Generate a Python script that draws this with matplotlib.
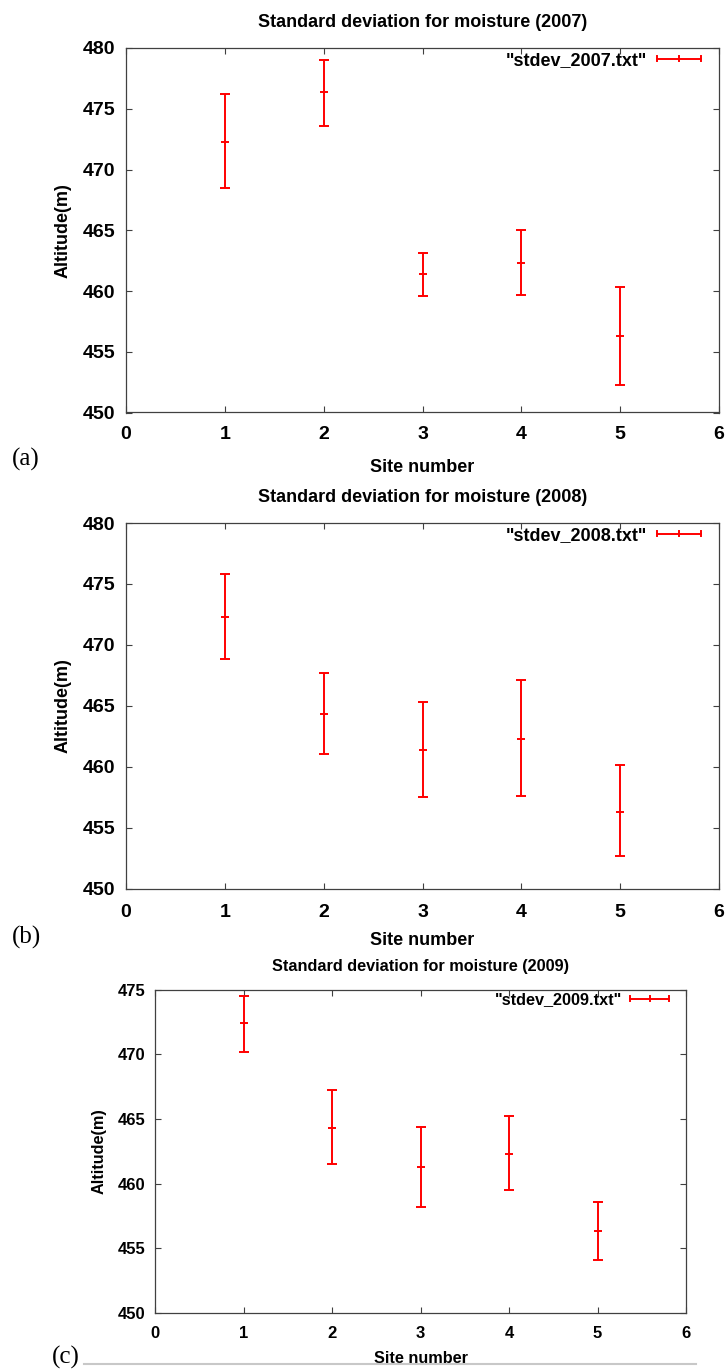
import matplotlib
matplotlib.use("Agg")
import matplotlib.pyplot as plt
from matplotlib.lines import Line2D
from matplotlib.legend_handler import HandlerBase
from matplotlib.container import ErrorbarContainer

plt.rcParams["font.family"] = ["Liberation Sans", "DejaVu Sans"]
plt.rcParams["font.weight"] = "bold"

W, H = 728, 1372
RED = "#ff0000"
SPINE = "#404040"

sites = [1, 2, 3, 4, 5]

# yearly mean altitude with low/high bounds per site
alt_2007 = [472.3, 476.4, 461.4, 462.3, 456.3]
lo_2007 = [468.5, 473.6, 459.6, 459.7, 452.3]
hi_2007 = [476.2, 479.0, 463.1, 465.0, 460.3]

alt_2008 = [472.3, 464.3, 461.4, 462.3, 456.3]
lo_2008 = [468.8, 461.0, 457.5, 457.6, 452.7]
hi_2008 = [475.8, 467.7, 465.3, 467.1, 460.1]

alt_2009 = [472.4, 464.3, 461.3, 462.3, 456.3]
lo_2009 = [470.2, 461.5, 458.2, 459.5, 454.1]
hi_2009 = [474.5, 467.2, 464.4, 465.2, 458.6]

x_ticks = [0, 1, 2, 3, 4, 5, 6]
y_ticks_ab = [450, 455, 460, 465, 470, 475, 480]
y_ticks_c = [450, 455, 460, 465, 470, 475]


class HandlerCapLine(HandlerBase):
    """gnuplot-like key sample: horizontal bar with end caps and a centre tick."""

    def create_artists(self, legend, orig_handle, xdescent, ydescent,
                       width, height, fontsize, trans):
        y = height / 2 - ydescent
        x0 = -xdescent
        x1 = x0 + width
        xm = (x0 + x1) / 2
        h = height * 0.22
        kw = dict(color=RED, lw=1.4, transform=trans)
        return [
            Line2D([x0, x1], [y, y], **kw),
            Line2D([x0, x0], [y - h, y + h], **kw),
            Line2D([x1, x1], [y - h, y + h], **kw),
            Line2D([xm, xm], [y - h, y + h], **kw),
        ]


def px_rect(l, r, t, b):
    return [l / W, 1 - b / H, (r - l) / W, (b - t) / H]


def panel(fig, rect, title, key, y, lo, hi, ylim, yticks, fs, tick_fs,
          key_fs, ypad, xpad, ylab_x, xlab_y, key_anchor, handlelen,
          textpad):
    ax = fig.add_axes(rect)
    err = [[c - l for c, l in zip(y, lo)], [h - c for c, h in zip(y, hi)]]
    eb = ax.errorbar(sites, y, yerr=err, fmt="_", color=RED, ms=5.5,
                     mew=1.4, elinewidth=1.4, capsize=3.5, capthick=1.4,
                     label=key)
    ax.set_xlim(0, 6)
    ax.set_ylim(*ylim)
    ax.set_xticks(x_ticks)
    ax.set_yticks(yticks)
    ax.tick_params(direction="in", length=4, width=0.8, color=SPINE,
                   top=True, right=True, labelsize=tick_fs)
    ax.tick_params(axis="y", pad=ypad)
    ax.tick_params(axis="x", pad=xpad)
    for s in ax.spines.values():
        s.set_color(SPINE)
        s.set_linewidth(0.9)

    ax.set_title(title, fontsize=fs, fontweight="bold", y=1.07, pad=0,
                 va="center")
    ax.set_xlabel("Site number", fontsize=fs, fontweight="bold")
    ax.xaxis.set_label_coords(0.5, xlab_y)
    ax.xaxis.label.set_va("center")
    ax.set_ylabel("Altitude(m)", fontsize=fs, fontweight="bold")
    ax.yaxis.set_label_coords(ylab_x, 0.5)
    ax.yaxis.label.set_va("center")

    ax.legend(handles=[eb], labels=[key], loc="upper right",
              bbox_to_anchor=key_anchor, frameon=False, borderpad=0,
              borderaxespad=0, handlelength=handlelen,
              handletextpad=textpad, markerfirst=False,
              prop={"weight": "bold", "size": key_fs},
              handler_map={ErrorbarContainer: HandlerCapLine()})
    return ax


fig = plt.figure(figsize=(W / 100, H / 100), dpi=100)
fig.patch.set_facecolor("white")

panel(fig, px_rect(126, 719, 48, 412.5),
      "Standard deviation for moisture (2007)", '"stdev_2007.txt"',
      alt_2007, lo_2007, hi_2007, (450, 480), y_ticks_ab, 13, 14, 13,
      8, 10, -0.107, -0.152, (1 - 18 / 593, 1 - 4 / 365), 2.45, 0.55)

panel(fig, px_rect(126, 719, 523, 888.5),
      "Standard deviation for moisture (2008)", '"stdev_2008.txt"',
      alt_2008, lo_2008, hi_2008, (450, 480), y_ticks_ab, 13, 14, 13,
      8, 11, -0.107, -0.142, (1 - 18 / 593, 1 - 4 / 365), 2.45, 0.55)

panel(fig, px_rect(155, 686, 989.5, 1313),
      "Standard deviation for moisture (2009)", '"stdev_2009.txt"',
      alt_2009, lo_2009, hi_2009, (450, 475), y_ticks_c, 11.7, 12, 11.7,
      7, 9.5, -0.105, -0.140, (1 - 17 / 531, 1 - 3 / 324), 2.4, 0.5)

# panel letters
for lab, x, yc in [("(a)", 12, 459), ("(b)", 12, 937), ("(c)", 52, 1357)]:
    fig.text(x / W, 1 - yc / H, lab, family="Liberation Serif",
             fontweight="normal", fontsize=18, ha="left", va="center")

# thin rule under the last panel
fig.add_artist(Line2D([84 / W, 696 / W], [1 - 1364 / H, 1 - 1364 / H],
                      transform=fig.transFigure, color="#c8c8c8", lw=1.5))

fig.savefig("out.png", dpi=100)
